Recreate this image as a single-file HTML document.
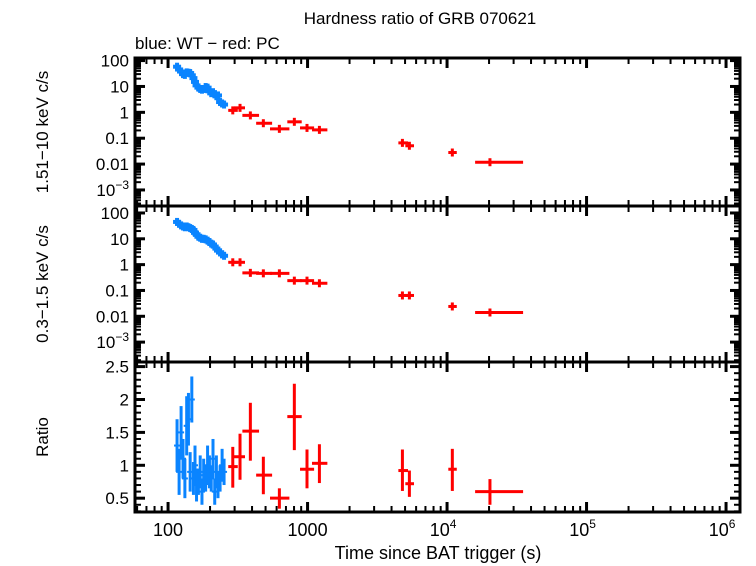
<!DOCTYPE html>
<html><head><meta charset="utf-8"><style>
html,body{margin:0;padding:0;background:#fff}
svg{display:block}
text{font-family:"Liberation Sans",sans-serif;fill:#000}
</style></head><body>
<svg id="chart" width="756" height="566" viewBox="0 0 756 566">
<text x="420" y="24" font-size="17" text-anchor="middle">Hardness ratio of GRB 070621</text>
<text x="135" y="49" font-size="17">blue: WT − red: PC</text>
<text transform="translate(48,132) rotate(-90)" font-size="17" text-anchor="middle">1.51−10 keV c/s</text>
<text transform="translate(48,284) rotate(-90)" font-size="17" text-anchor="middle">0.3−1.5 keV c/s</text>
<text transform="translate(48,437) rotate(-90)" font-size="17" text-anchor="middle">Ratio</text>
<text x="438" y="559" font-size="18" text-anchor="middle">Time since BAT trigger (s)</text>
</svg>
<script>
// PC (red) data
const pcTime = [291,328,389,482,628,804,991,1216,4786,5370,10910,20300];
const pcTimeLo = [270,297,341,428,538,716,883,1076,4477,5023,10210,15890];
const pcTimeHi = [316,356,449,557,741,908,1114,1387,5248,5794,11740,35080];
const pcHard = [1.19,1.49,0.76,0.38,0.23,0.43,0.25,0.21,0.066,0.051,0.028,0.0118];
const pcSoft = [1.23,1.23,0.48,0.46,0.46,0.24,0.24,0.19,0.064,0.064,0.024,0.014];
const pcRatio = [0.98,1.13,1.52,0.85,0.5,1.74,0.94,1.03,0.92,0.72,0.94,0.6];
const pcRatioHi = [1.28,1.48,1.95,1.13,0.65,2.24,1.24,1.32,1.24,0.92,1.25,0.79];
const pcRatioLo = [0.66,0.78,1.07,0.56,0.34,1.23,0.65,0.73,0.61,0.52,0.61,0.4];
// WT (blue) data
const wtTime = [116,120,124,128,132,136,140,144,148,152,156,160,165,170,175,180,186,192,198,204,210,216,222,228,236,244,252];
const wtHard = [58,45,38,30,28,35,34,33,27,21,15,11,9,8,7.5,8,9.5,9,6.5,5.5,6,5,4.2,4.5,2.5,2.2,2.0];
const wtSoft = [45,38,33,30,28,30,28,26,24,22,17,15,12,11,10,10,9.5,8.5,7.5,6.5,6,5,4.2,3.5,3,2.5,2.2];
const wtRatio = [1.3,0.9,1.5,1.1,0.8,1.6,1.7,0.9,2.0,0.8,1.0,0.7,0.75,0.9,0.6,0.85,0.8,1.0,0.9,0.8,1.1,0.6,0.9,0.7,0.8,1.0,0.9];
const wtRatioErr = [0.4,0.35,0.4,0.3,0.3,0.45,0.4,0.3,0.35,0.25,0.3,0.25,0.2,0.25,0.2,0.25,0.2,0.3,0.25,0.2,0.3,0.2,0.25,0.2,0.2,0.25,0.2];

const svg = document.getElementById('chart');
const NS = 'http://www.w3.org/2000/svg';
const L = 135, R = 740;
const xMinLog = 1.763, xMaxLog = 6.1;
function xs(t){ return L + (Math.log10(t) - xMinLog) / (xMaxLog - xMinLog) * (R - L); }
const panels = [
  {top:58, bot:206, lmin:-3.62, lmax:2.1, log:true},
  {top:206, bot:362, lmin:-3.77, lmax:2.27, log:true},
  {top:362, bot:512, lmin:0.29, lmax:2.57, log:false}
];
function ys(p, v){
  const u = p.log ? Math.log10(v) : v;
  return p.bot - (u - p.lmin) / (p.lmax - p.lmin) * (p.bot - p.top);
}
function el(tag, attrs, parent){
  const e = document.createElementNS(NS, tag);
  for (const k in attrs) e.setAttribute(k, attrs[k]);
  (parent || svg).appendChild(e);
  return e;
}
function line(x1,y1,x2,y2,stroke,w,parent){
  return el('line',{x1:x1,y1:y1,x2:x2,y2:y2,stroke:stroke,'stroke-width':w},parent);
}
panels.forEach((p, i) => {
  const g = el('g', {});
  
  
  for (let d = 1; d <= 6; d++) {
    for (let m = 1; m <= 9; m++) {
      const lg = d + Math.log10(m);
      if (lg < xMinLog || lg > xMaxLog) continue;
      const x = xs(Math.pow(10, lg));
      const len = m === 1 ? 10 : 6;
      line(x, p.top, x, p.top + len, '#000', m === 1 ? 3 : 2, g);
      line(x, p.bot, x, p.bot - len, '#000', m === 1 ? 3 : 2, g);
    }
  }
  if (p.log) {
    const labels = {2:'100',1:'10',0:'1','-1':'0.1','-2':'0.01'};
    for (let d = -4; d <= 2; d++) {
      for (let m = 1; m <= 9; m++) {
        const lg = d + Math.log10(m);
        if (lg < p.lmin || lg > p.lmax) continue;
        const y = ys(p, Math.pow(10, lg));
        const len = m === 1 ? 10 : 6;
        line(L, y, L + len, y, '#000', m === 1 ? 3 : 2, g);
        line(R, y, R - len, y, '#000', m === 1 ? 3 : 2, g);
      }
      if (d < p.lmin || d > p.lmax) continue;
      const y = ys(p, Math.pow(10, d));
      if (labels[d] !== undefined) {
        const t = el('text', {x:L-6, y:y+6, 'font-size':17, 'text-anchor':'end'}, g);
        t.textContent = labels[d];
      } else if (d === -3) {
        const t = el('text', {x:L-6, y:y+6, 'font-size':17, 'text-anchor':'end'}, g);
        t.textContent = '10';
        const s = el('tspan', {'font-size':12, dy:-7}, t);
        s.textContent = '−3';
      }
    }
  } else {
    const rt = [0.5,1,1.5,2,2.5];
    for (let v = 0.3; v <= 2.56; v += 0.1) {
      const y = ys(p, v);
      const major = Math.abs(v*2 - Math.round(v*2)) < 0.01;
      const len = major ? 10 : 6;
      line(L, y, L + len, y, '#000', major ? 3 : 2, g);
      line(R, y, R - len, y, '#000', major ? 3 : 2, g);
    }
    rt.forEach(v => {
      const t = el('text', {x:L-6, y:ys(p,v)+6, 'font-size':17, 'text-anchor':'end'}, g);
      t.textContent = String(v);
    });
  }
  el('rect', {x:L, y:p.top, width:R-L, height:p.bot-p.top, fill:'none', stroke:'#000', 'stroke-width':3}, g);
});
const xl = el('g', {});


[2,3,4,5,6].forEach(d => {
  const x = xs(Math.pow(10, d));
  const t = el('text', {x:x, y:536, 'font-size':18, 'text-anchor':'middle'}, xl);
  if (d === 2) t.textContent = '100';
  else if (d === 3) t.textContent = '1000';
  else {
    t.setAttribute('x', x - 4);
    t.textContent = '10';
    const s = el('tspan', {'font-size':12, dy:-8}, t);
    s.textContent = String(d);
  }
});
const blue = '#0a84ff';
const wtVals = [wtHard, wtSoft];
[0,1].forEach(pi => {
  const g = el('g', {});
  
  
  const p = panels[pi];
  wtTime.forEach((t, i) => {
    const x = xs(t), y = ys(p, wtVals[pi][i]);
    line(x-4, y, x+4, y, blue, 4, g);
    line(x, y-4, x, y+4, blue, 4, g);
  });
});
const gwr = el('g', {});


wtTime.forEach((t, i) => {
  const p = panels[2];
  const x = xs(t), y = ys(p, wtRatio[i]);
  line(x, ys(p, wtRatio[i] + wtRatioErr[i]), x, ys(p, wtRatio[i] - wtRatioErr[i]), blue, 3, gwr);
  line(x-3, y, x+3, y, blue, 2, gwr);
});
const red = '#ff0000';
const pcVals = [pcHard, pcSoft];
[0,1].forEach(pi => {
  const g = el('g', {});
  
  
  const p = panels[pi];
  pcTime.forEach((t, i) => {
    const y = ys(p, pcVals[pi][i]), x = xs(t);
    line(xs(pcTimeLo[i]), y, xs(pcTimeHi[i]), y, red, 3, g);
    line(x, y-4, x, y+4, red, 3, g);
  });
});
const gpr = el('g', {});


pcTime.forEach((t, i) => {
  const p = panels[2];
  const y = ys(p, pcRatio[i]), x = xs(t);
  line(xs(pcTimeLo[i]), y, xs(pcTimeHi[i]), y, red, 3, gpr);
  line(x, ys(p, pcRatioHi[i]), x, ys(p, pcRatioLo[i]), red, 3, gpr);
});
</script>
</body></html>
